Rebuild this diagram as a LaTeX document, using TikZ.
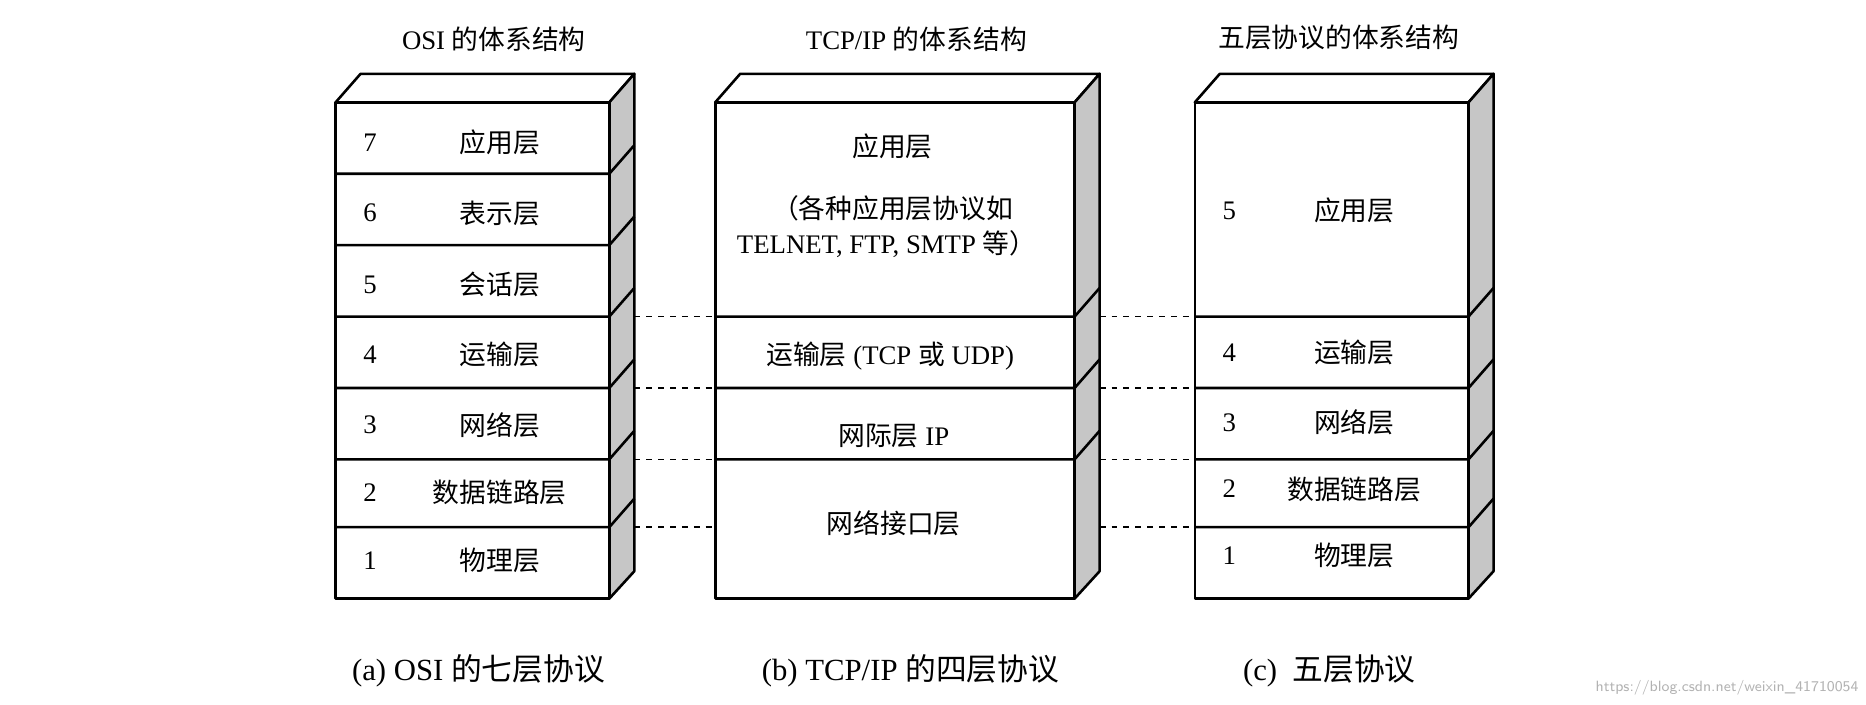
\documentclass[tikz,border=0pt]{standalone}
\usepackage{fontspec}
\setmainfont{Liberation Serif}
\newfontfamily\cjk{Noto Sans CJK SC}
\newcommand{\zh}[1]{{\cjk #1}}
\begin{document}
\begin{tikzpicture}[x=0.6pt,y=-0.6pt,
  edge/.style={line width=1.3pt,line join=round},
  side/.style={edge,fill=gray!45},
  dashln/.style={dashed,line width=0.8pt},
  lbl/.style={font=\fontsize{13.5}{15}\selectfont,inner sep=0pt},
  num/.style={font=\fontsize{13.5}{15}\selectfont,inner sep=0pt},
  captxt/.style={font=\fontsize{15.5}{18}\selectfont,inner sep=0pt}]
\useasboundingbox (0,0) rectangle (1568,592);
\def\dx{21}\def\dy{24}
% stacks
\foreach \xa/\xb in {282/512,601/903,1004/1234}{
  \draw[edge,fill=white] (\xa,86) -- (\xa+\dx,62) -- (\xb+\dx,62) -- (\xb,86) -- cycle;
  \draw[side] (\xb,86) -- (\xb+\dx,62) -- (\xb+\dx,480) -- (\xb,503) -- cycle;
  \draw[edge] (\xa,86) rectangle (\xb,503);
}
\foreach \y in {146,206,266,326,386,443}{
  \draw[edge] (282,\y) -- (512,\y) -- (533,\y-\dy);}
\foreach \y in {266,326,386}{
  \draw[edge] (601,\y) -- (903,\y) -- (924,\y-\dy);}
\foreach \y in {266,326,386,443}{
  \draw[edge] (1004,\y) -- (1234,\y) -- (1255,\y-\dy);}
% dashed connectors
\foreach \y [count=\i] in {266,326,386,443}{
  \coordinate (p\i a) at (533,\y); \coordinate (p\i b) at (601,\y);
  \coordinate (p\i c) at (924,\y); \coordinate (p\i d) at (1004,\y);
  \draw[dashln] (p\i a) -- (p\i b);
  \draw[dashln] (p\i c) -- (p\i d);}
% titles
\node[lbl] (tA) at (415,33) {OSI \zh{的体系结构}};
\node[lbl] (tB) at (770,33) {TCP/IP \zh{的体系结构}};
\node[lbl] (tC) at (1125,31) {\zh{五层协议的体系结构}};
% OSI rows
\foreach \n/\t/\y in {7/应用层/120,6/表示层/179,5/会话层/239,4/运输层/298,3/网络层/357,2/数据链路层/414,1/物理层/471}{
  \node[num] (an\n) at (311,\y) {\n};
  \node[lbl] (at\n) at (420,\y) {\zh{\t}};}
% TCP/IP
\node[lbl] (b1) at (750,123) {\zh{应用层}};
\node[lbl] (b2) at (750,175) {\zh{（各种应用层协议如}};
\node[lbl] (b3) at (745,205) {TELNET, FTP, SMTP \zh{等）}};
\node[lbl] (b4) at (748,299) {\zh{运输层} (TCP \zh{或} UDP)};
\node[lbl] (b5) at (751,366) {\zh{网际层} IP};
\node[lbl] (b6) at (751,440) {\zh{网络接口层}};
% five layer
\node[num] (cn5) at (1033,177) {5};
\node[lbl] (ct5) at (1138,177) {\zh{应用层}};
\foreach \n/\t/\y in {4/运输层/296,3/网络层/355,2/数据链路层/411,1/物理层/467}{
  \node[num] (cn\n) at (1033,\y) {\n};
  \node[lbl] (ct\n) at (1138,\y) {\zh{\t}};}
% captions
\node[captxt] (cA) at (402,564) {(a) OSI \zh{的七层协议}};
\node[captxt] (cB) at (765,564) {(b) TCP/IP \zh{的四层协议}};
\node[captxt] (cC) at (1117,564) {(c)\ \ \zh{五层协议}};
\node[font=\fontsize{7.5}{9}\selectfont\sffamily,text=gray!60,inner sep=0pt,anchor=east] (wm) at (1562,578) {https://blog.csdn.net/weixin\_41710054};
\end{tikzpicture}
\end{document}
